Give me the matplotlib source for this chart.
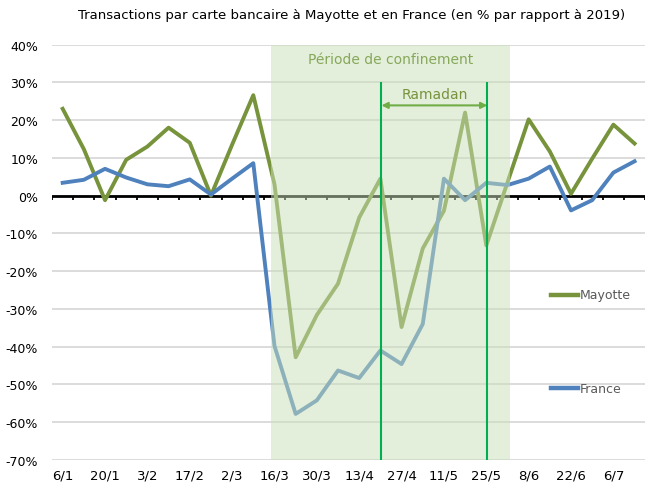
import numpy as np
import matplotlib
matplotlib.use("Agg")
import matplotlib.pyplot as plt

# weekly points, 6/1 -> 13/7
weeks = ["6/1", "13/1", "20/1", "27/1", "3/2", "10/2", "17/2", "24/2", "2/3", "9/3",
         "16/3", "23/3", "30/3", "6/4", "13/4", "20/4", "27/4", "4/5", "11/5", "18/5",
         "25/5", "1/6", "8/6", "15/6", "22/6", "29/6", "6/7", "13/7"]
mayotte = [23.0, 12.3, -1.2, 9.5, 13.0, 18.0, 14.0, 0.0, 13.5, 26.6,
           3.0, -42.8, -31.6, -23.3, -5.8, 4.5, -34.8, -14.0, -4.0, 22.0,
           -13.2, 3.5, 20.2, 11.7, 0.5, 9.8, 18.8, 13.8]
france = [3.4, 4.2, 7.1, 4.8, 3.0, 2.5, 4.3, 0.3, 4.5, 8.6,
          -39.8, -57.8, -54.2, -46.3, -48.3, -41.0, -44.6, -34.0, 4.5, -1.2,
          3.4, 2.8, 4.5, 7.7, -3.9, -1.2, 6.1, 9.1]
yticks = [40, 30, 20, 10, 0, -10, -20, -30, -40, -50, -60, -70]

green = "#77933C"
blue = "#4F81BD"
plt.rcParams["font.family"] = ["DejaVu Sans"]

fig = plt.figure(figsize=(6.51, 4.85), dpi=100)
ax = fig.add_axes([0.080, 0.0495, 0.911, 0.8565])
x = np.arange(len(weeks))

ax.set_xlim(-0.5, len(weeks) - 0.5)
ax.set_ylim(-70, 40)
for s in ax.spines.values():
    s.set_visible(False)
ax.set_yticks(yticks)
ax.set_yticklabels([f"{v}%" for v in yticks], fontsize=9)
ax.yaxis.grid(True, color="#D9D9D9", lw=1.3)
ax.set_axisbelow(True)
ax.set_xticks(x[::2])
ax.set_xticklabels(weeks[::2], fontsize=9.5)
ax.tick_params(axis="x", length=0, pad=6)
ax.tick_params(axis="y", length=0, pad=10)

# zero axis with category tick marks
ax.axhline(0, color="black", lw=2, zorder=3)
ax.vlines(np.arange(-0.5, len(weeks)), -1.2, 0, color="black", lw=1.3, zorder=3)

ax.plot(x, mayotte, color=green, lw=2.8, zorder=4)
ax.plot(x, france, color=blue, lw=2.8, zorder=4)

# lockdown shading (drawn over the lines)
ax.axvspan(9.83, 21.13, color="#CBE1B9", alpha=0.5, lw=0, zorder=5)
ax.text(15.48, 36.3, "Période de confinement", color="#86A85A", fontsize=10,
        ha="center", va="center", zorder=6)

# ramadan
ax.vlines([15.05, 20.05], -70, 30.2, color="#00B050", lw=1.5, zorder=6)
ax.annotate("", xy=(15.05, 23.9), xytext=(20.05, 23.9),
            arrowprops=dict(arrowstyle="<|-|>", color="#70AD47", lw=1.5,
                            mutation_scale=9, shrinkA=0, shrinkB=0), zorder=6)
ax.text(17.55, 26.8, "Ramadan", color="#77933C", fontsize=10,
        ha="center", va="center", zorder=6)

# legend
ax.plot([23.07, 24.35], [-26.2, -26.2], color=green, lw=3.2, zorder=6)
ax.text(24.4, -26.2, "Mayotte", color="#595959", fontsize=9, va="center", zorder=6)
ax.plot([23.07, 24.35], [-51.0, -51.0], color=blue, lw=3.2, zorder=6)
ax.text(24.4, -51.0, "France", color="#595959", fontsize=9, va="center", zorder=6)

fig.text(0.54, 0.968, "Transactions par carte bancaire à Mayotte et en France (en % par rapport à 2019)",
         ha="center", va="center", fontsize=9.5)

fig.savefig("out.png", dpi=100)
